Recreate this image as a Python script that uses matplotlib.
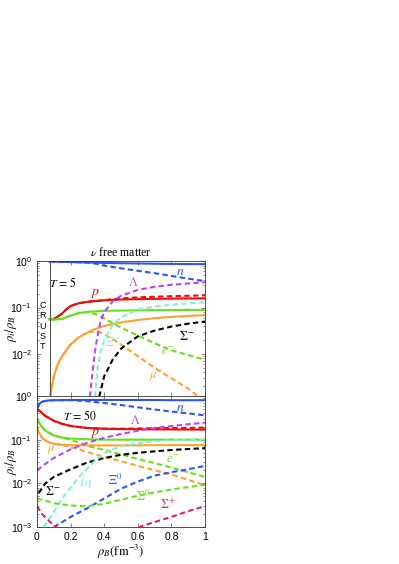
import matplotlib
matplotlib.use("Agg")
import matplotlib.pyplot as plt
from matplotlib.ticker import MultipleLocator, LogLocator, NullFormatter

plt.rcParams['font.family'] = ['Liberation Sans', 'DejaVu Sans']
plt.rcParams['mathtext.fontset'] = 'custom'
plt.rcParams['mathtext.rm'] = 'Liberation Sans'
plt.rcParams['mathtext.it'] = 'Liberation Sans:italic'

# ---- T = 5 panel (top) ----
t5_n_x = [0.075, 0.1, 0.15, 0.2, 0.3, 0.4, 0.5, 0.6, 0.7, 0.8, 0.9, 1.0]
t5_n = [0.98, 0.975, 0.965, 0.955, 0.935, 0.915, 0.90, 0.89, 0.88, 0.87, 0.865, 0.86]
t5_n_fr_x = [0.075, 0.1, 0.15, 0.2, 0.3, 0.35, 0.4, 0.5, 0.6, 0.7, 0.8, 0.9, 1.0]
t5_n_fr = [0.98, 0.975, 0.965, 0.955, 0.93, 0.88, 0.80, 0.70, 0.62, 0.55, 0.48, 0.42, 0.37]

t5_p_x = [0.075, 0.1, 0.125, 0.15, 0.175, 0.2, 0.25, 0.3, 0.4, 0.5, 0.6, 0.8, 1.0]
t5_p = [0.056, 0.057, 0.064, 0.075, 0.092, 0.108, 0.124, 0.133, 0.143, 0.149, 0.152, 0.156, 0.158]
t5_p_fr = [0.056, 0.057, 0.064, 0.075, 0.092, 0.108, 0.124, 0.133, 0.145, 0.157, 0.166, 0.176, 0.183]

t5_e_x = [0.075, 0.1, 0.15, 0.2, 0.25, 0.3, 0.35, 0.4, 0.5, 0.6, 0.7, 0.8, 0.9, 1.0]
t5_e = [0.056, 0.055, 0.057, 0.067, 0.076, 0.081, 0.083, 0.085, 0.086, 0.087, 0.088, 0.088, 0.089, 0.089]
t5_e_fr = [0.056, 0.055, 0.057, 0.067, 0.076, 0.080, 0.072, 0.058, 0.037, 0.025, 0.017, 0.012, 0.0095, 0.0075]

t5_mu_x = [0.078, 0.1, 0.125, 0.15, 0.2, 0.25, 0.3, 0.35, 0.4, 0.5, 0.6, 0.7, 0.8, 0.9, 1.0]
t5_mu = [0.0012, 0.0033, 0.0062, 0.009, 0.016, 0.023, 0.029, 0.035, 0.040, 0.048, 0.054, 0.059, 0.063, 0.066, 0.069]
t5_mu_fr_x = [0.078, 0.1, 0.125, 0.15, 0.2, 0.25, 0.3, 0.35, 0.4, 0.5, 0.6, 0.7, 0.8, 0.9, 0.96]
t5_mu_fr = [0.0012, 0.0033, 0.0062, 0.009, 0.016, 0.023, 0.029, 0.031, 0.027, 0.016, 0.009, 0.005, 0.003, 0.0018, 0.0012]

t5_lam_x = [0.315, 0.33, 0.35, 0.375, 0.4, 0.45, 0.5, 0.6, 0.7, 0.8, 0.9, 1.0]
t5_lam = [0.0012, 0.004, 0.015, 0.045, 0.08, 0.135, 0.18, 0.24, 0.28, 0.31, 0.33, 0.35]

t5_xim_x = [0.345, 0.36, 0.38, 0.4, 0.45, 0.5, 0.6, 0.7, 0.8, 0.9, 1.0]
t5_xim = [0.0012, 0.005, 0.012, 0.02, 0.042, 0.062, 0.09, 0.105, 0.115, 0.123, 0.13]

t5_sigm_x = [0.37, 0.4, 0.45, 0.5, 0.6, 0.7, 0.8, 0.9, 1.0]
t5_sigm = [0.0012, 0.0033, 0.0075, 0.013, 0.024, 0.032, 0.039, 0.045, 0.05]

# ---- T = 50 panel (bottom) ----
t50_n_x = [0.0, 0.01, 0.02, 0.04, 0.07, 0.1, 0.2, 0.3, 0.4, 0.5, 0.6, 0.7, 0.8, 0.9, 1.0]
t50_n = [0.5, 0.62, 0.70, 0.76, 0.79, 0.80, 0.81, 0.81, 0.81, 0.81, 0.81, 0.81, 0.80, 0.80, 0.80]
t50_n_fr = [0.5, 0.62, 0.70, 0.76, 0.79, 0.80, 0.80, 0.76, 0.69, 0.62, 0.55, 0.49, 0.44, 0.40, 0.36]

t50_p_x = [0.0, 0.02, 0.05, 0.1, 0.15, 0.2, 0.3, 0.4, 0.5, 0.7, 1.0]
t50_p = [0.5, 0.44, 0.35, 0.27, 0.23, 0.205, 0.185, 0.178, 0.175, 0.172, 0.17]
t50_p_fr = [0.5, 0.44, 0.35, 0.27, 0.23, 0.205, 0.185, 0.178, 0.178, 0.183, 0.188]

t50_e_x = [0.0, 0.02, 0.05, 0.1, 0.15, 0.2, 0.3, 0.4, 0.5, 0.6, 0.7, 0.8, 0.9, 1.0]
t50_e = [0.30, 0.22, 0.16, 0.125, 0.112, 0.106, 0.102, 0.10, 0.10, 0.10, 0.10, 0.10, 0.10, 0.10]
t50_e_fr = [0.30, 0.22, 0.16, 0.125, 0.11, 0.10, 0.072, 0.058, 0.046, 0.036, 0.029, 0.023, 0.018, 0.014]

t50_mu_x = [0.0, 0.01, 0.03, 0.06, 0.1, 0.15, 0.2, 0.3, 0.4, 0.5, 0.6, 0.7, 0.8, 0.9, 1.0]
t50_mu = [0.20, 0.15, 0.11, 0.09, 0.08, 0.076, 0.075, 0.074, 0.074, 0.074, 0.074, 0.075, 0.075, 0.075, 0.075]
t50_mu_fr = [0.20, 0.15, 0.11, 0.09, 0.08, 0.075, 0.068, 0.052, 0.040, 0.032, 0.025, 0.020, 0.016, 0.012, 0.009]

t50_lam_x = [0.0, 0.05, 0.1, 0.2, 0.3, 0.4, 0.5, 0.6, 0.7, 0.8, 0.9, 1.0]
t50_lam = [0.02, 0.028, 0.038, 0.06, 0.085, 0.11, 0.135, 0.16, 0.185, 0.205, 0.225, 0.245]

t50_sigm_x = [0.01, 0.05, 0.1, 0.2, 0.3, 0.4, 0.5, 0.6, 0.7, 0.8, 0.9, 1.0]
t50_sigm = [0.006, 0.010, 0.014, 0.021, 0.030, 0.038, 0.045, 0.050, 0.054, 0.058, 0.061, 0.064]

t50_xim_x = [0.04, 0.1, 0.15, 0.2, 0.25, 0.3, 0.35, 0.4, 0.45, 0.5, 0.6, 0.7, 0.8, 0.9, 1.0]
t50_xim = [0.001, 0.0022, 0.0045, 0.008, 0.014, 0.022, 0.034, 0.048, 0.060, 0.070, 0.083, 0.092, 0.097, 0.10, 0.102]

t50_xi0_x = [0.1, 0.15, 0.2, 0.3, 0.4, 0.5, 0.6, 0.7, 0.8, 0.9, 1.0]
t50_xi0 = [0.001, 0.0013, 0.0017, 0.0027, 0.0045, 0.0075, 0.011, 0.015, 0.018, 0.021, 0.025]

t50_sig0_x = [0.0, 0.05, 0.1, 0.2, 0.3, 0.4, 0.5, 0.6, 0.7, 0.8, 0.9, 1.0]
t50_sig0 = [0.0045, 0.004, 0.0035, 0.0031, 0.0030, 0.0034, 0.0042, 0.0052, 0.0062, 0.0072, 0.0082, 0.0092]

t50_sigp_x = [0.0, 0.03, 0.06, 0.1, 0.15, 0.3, 0.45, 0.55, 0.61, 0.7, 0.8, 0.9, 1.0]
t50_sigp = [0.003, 0.002, 0.0015, 0.0011, 0.0008, 0.0006, 0.00065, 0.00085, 0.001, 0.0013, 0.0017, 0.0023, 0.003]

BLUE = '#2f55f0'
RED = '#f00a0a'
GREEN = '#66e01a'
ORANGE = '#ffa030'
PURPLE = '#b545ff'
CYAN = '#7ff0dc'
BLACK = '#000000'
CRIMSON = '#e0205f'

LW = 1.5
DASH = (0, (2.6, 1.6))

fig = plt.figure(figsize=(3.99, 5.64), dpi=100)
ax1 = fig.add_axes([0.0927, 0.298, 0.4211, 0.239])
ax2 = fig.add_axes([0.0927, 0.0656, 0.4211, 0.2323])

serif = dict(fontfamily='Liberation Serif', math_fontfamily='stix')


def style(ax, ylow):
    ax.set_yscale('log')
    ax.set_xlim(0, 1)
    ax.set_ylim(ylow, 1)
    ax.xaxis.set_major_locator(MultipleLocator(0.2))
    ax.yaxis.set_major_locator(LogLocator(base=10, numticks=10))
    ax.yaxis.set_minor_locator(LogLocator(base=10, subs=range(2, 10), numticks=10))
    ax.yaxis.set_minor_formatter(NullFormatter())
    ax.tick_params(which='both', direction='in', top=True, right=True,
                   labelsize=7.5, color='#555555', width=0.5)
    ax.tick_params(which='major', length=3)
    ax.tick_params(which='minor', length=1.5)
    for s in ax.spines.values():
        s.set_linewidth(0.6)
        s.set_color('#333333')
    ax.set_ylabel(r'$\rho_i/\rho_B$', fontsize=9, **serif)
    ax.yaxis.set_label_coords(-0.105, 0.5)


# top panel
ax = ax1
style(ax, 1.25e-3)
ax.plot(t5_n_x, t5_n, color=BLUE, lw=LW)
ax.plot(t5_n_fr_x, t5_n_fr, color=BLUE, lw=LW, ls=DASH)
ax.plot(t5_p_x, t5_p, color=RED, lw=LW)
ax.plot(t5_p_x, t5_p_fr, color=RED, lw=LW, ls=DASH)
ax.plot(t5_e_x, t5_e, color=GREEN, lw=LW)
ax.plot(t5_e_x, t5_e_fr, color=GREEN, lw=LW, ls=DASH)
ax.plot(t5_mu_x, t5_mu, color=ORANGE, lw=LW)
ax.plot(t5_mu_fr_x, t5_mu_fr, color=ORANGE, lw=LW, ls=DASH)
ax.plot(t5_lam_x, t5_lam, color=PURPLE, lw=LW, ls=DASH)
ax.plot(t5_xim_x, t5_xim, color=CYAN, lw=LW, ls=DASH)
ax.plot(t5_sigm_x, t5_sigm, color=BLACK, lw=LW, ls=DASH)
ax.axvline(0.075, color='#555555', lw=0.8)
ax.tick_params(labelbottom=False)
ax.set_title(r'$\nu$ free matter', fontsize=8.5, pad=4, **serif)

ax.text(0.034, 0.04, 'C\nR\nU\nS\nT', fontsize=6.5, ha='center', va='center',
        linespacing=1.2)
ax.text(0.155, 0.33, r'$T\,=\,5$', fontsize=8.5, ha='center', va='center', **serif)
ax.text(0.851, 0.59, r'$n$', color=BLUE, fontsize=10, ha='center', va='center', **serif)
ax.text(0.571, 0.34, r'$\Lambda$', color=PURPLE, fontsize=9, ha='center', va='center', **serif)
ax.text(0.345, 0.205, r'$p$', color=RED, fontsize=10, ha='center', va='center', **serif)
ax.text(0.893, 0.0235, r'$\Sigma^{-}$', color=BLACK, fontsize=9, ha='center', va='center', **serif)
ax.text(0.452, 0.0173, r'$\Xi^{-}$', color=CYAN, fontsize=9, ha='center', va='center', **serif)
ax.text(0.78, 0.0112, r'$e^{-}$', color=GREEN, fontsize=9, ha='center', va='center', **serif)
ax.text(0.714, 0.0032, r'$\mu^{-}$', color=ORANGE, fontsize=9, ha='center', va='center', **serif)

# bottom panel
ax = ax2
style(ax, 1e-3)
ax.plot(t50_n_x, t50_n, color=BLUE, lw=LW)
ax.plot(t50_n_x, t50_n_fr, color=BLUE, lw=LW, ls=DASH)
ax.plot(t50_p_x, t50_p, color=RED, lw=LW)
ax.plot(t50_p_x, t50_p_fr, color=RED, lw=LW, ls=DASH)
ax.plot(t50_e_x, t50_e, color=GREEN, lw=LW)
ax.plot(t50_e_x, t50_e_fr, color=GREEN, lw=LW, ls=DASH)
ax.plot(t50_mu_x, t50_mu, color=ORANGE, lw=LW)
ax.plot(t50_mu_x, t50_mu_fr, color=ORANGE, lw=LW, ls=DASH)
ax.plot(t50_lam_x, t50_lam, color=PURPLE, lw=LW, ls=DASH)
ax.plot(t50_sigm_x, t50_sigm, color=BLACK, lw=LW, ls=DASH)
ax.plot(t50_xim_x, t50_xim, color=CYAN, lw=LW, ls=DASH)
ax.plot(t50_xi0_x, t50_xi0, color=BLUE, lw=LW, ls=DASH)
ax.plot(t50_sig0_x, t50_sig0, color=GREEN, lw=LW, ls=DASH)
ax.plot(t50_sigp_x, t50_sigp, color=CRIMSON, lw=LW, ls=DASH)
ax.set_xticks([0, 0.2, 0.4, 0.6, 0.8, 1.0])
ax.set_xticklabels(['0', '0.2', '0.4', '0.6', '0.8', '1'])
ax.set_xlabel(r'$\rho_B(\mathrm{fm}^{-3})$', fontsize=9, labelpad=1, **serif)

ax.text(0.256, 0.355, r'$T\,=\,50$', fontsize=8.5, ha='center', va='center', **serif)
ax.text(0.851, 0.535, r'$n$', color=BLUE, fontsize=10, ha='center', va='center', **serif)
ax.text(0.583, 0.277, r'$\Lambda$', color=PURPLE, fontsize=9, ha='center', va='center', **serif)
ax.text(0.345, 0.142, r'$p$', color=RED, fontsize=10, ha='center', va='center', **serif)
ax.text(0.107, 0.058, r'$\mu^{-}$', color=ORANGE, fontsize=9, ha='center', va='center', **serif)
ax.text(0.81, 0.034, r'$e^{-}$', color=GREEN, fontsize=9, ha='center', va='center', **serif)
ax.text(0.464, 0.0119, r'$\Xi^{0}$', color=BLUE, fontsize=9, ha='center', va='center', **serif)
ax.text(0.304, 0.0119, r'$\Xi^{-}$', color=CYAN, fontsize=9, ha='center', va='center',
        rotation=85, **serif)
ax.text(0.095, 0.0064, r'$\Sigma^{-}$', color=BLACK, fontsize=9, ha='center', va='center', **serif)
ax.text(0.631, 0.0049, r'$\Sigma^{0}$', color=GREEN, fontsize=9, ha='center', va='center', **serif)
ax.text(0.78, 0.0032, r'$\Sigma^{+}$', color=CRIMSON, fontsize=9, ha='center', va='center', **serif)

fig.savefig('out.png', dpi=100)
